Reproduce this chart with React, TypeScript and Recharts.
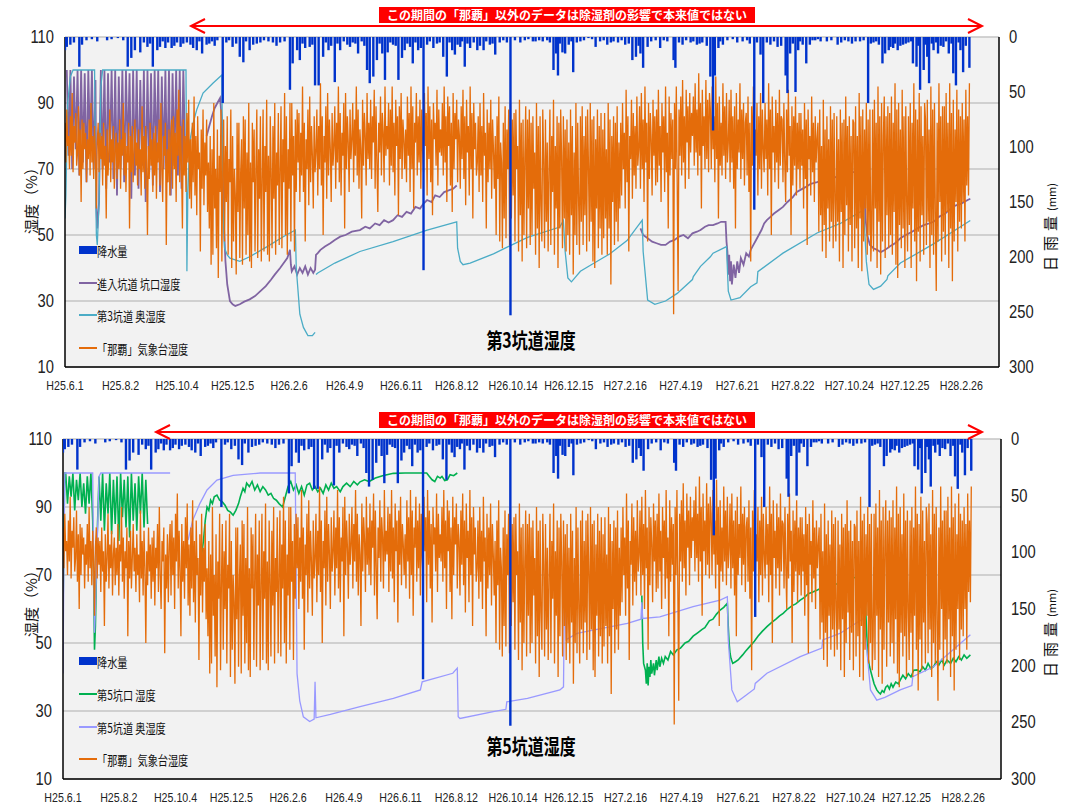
import React from 'react';
import { ComposedChart, Line, Bar, XAxis, YAxis, CartesianGrid } from 'recharts';

// ---- axes ----
const tickDays = [0, 62, 125, 187, 250, 312, 375, 437, 500, 562, 625, 687, 750, 812, 875, 937, 1000];
const tickLabels = ['H25.6.1', 'H25.8.2', 'H25.10.4', 'H25.12.5', 'H26.2.6', 'H26.4.9', 'H26.6.11', 'H26.8.12', 'H26.10.14', 'H26.12.15', 'H27.2.16', 'H27.4.19', 'H27.6.21', 'H27.8.22', 'H27.10.24', 'H27.12.25', 'H28.2.26'];
const humTicks = [10, 30, 50, 70, 90, 110];
const rainTicks = [0, 50, 100, 150, 200, 250, 300];

// ---- daily rainfall (day index from H25.6.1, mm) ----
const rainMajor: [number, number][] = [
  [0, 12], [2, 9], [6, 7], [10, 5], [16, 27], [19, 7], [47, 3], [59, 1], [70, 27], [74, 19], [78, 12], [84, 14], [92, 9], [98, 27], [103, 12], [106, 9], [112, 10], [115, 5], [119, 10], [125, 5], [129, 9], [136, 5], [143, 10], [147, 12], [153, 15], [158, 7], [164, 4], [170, 3], [176, 60], [187, 9], [195, 18], [199, 23], [206, 12], [210, 7], [218, 5], [227, 4], [240, 5], [251, 48], [254, 24], [259, 12], [262, 21], [268, 10], [273, 9], [279, 44], [283, 44], [288, 18], [294, 12], [301, 41], [307, 12], [315, 7], [321, 5], [327, 15], [337, 30], [340, 42], [344, 36], [348, 21], [354, 15], [357, 39], [360, 14], [366, 7], [372, 39], [376, 19], [379, 12], [385, 9], [388, 24], [394, 12], [400, 212], [404, 7], [411, 10], [422, 18], [426, 36], [432, 12], [435, 16], [441, 9], [446, 27], [452, 10], [460, 12], [467, 12], [474, 7], [480, 16], [485, 5], [497, 253], [508, 5], [513, 3], [522, 4], [525, 4], [533, 4], [538, 3], [545, 30], [548, 15], [550, 35], [555, 14], [558, 15], [562, 7], [567, 32], [571, 5], [575, 4], [584, 1], [592, 9], [597, 4], [605, 7], [612, 4], [617, 5], [625, 7], [633, 21], [637, 18], [642, 15], [645, 28], [650, 9], [664, 10], [679, 21], [681, 28], [689, 7], [698, 5], [705, 7], [711, 5], [720, 36], [723, 85], [725, 35], [729, 10], [734, 7], [750, 5], [761, 3], [769, 157], [776, 16], [779, 60], [787, 7], [795, 9], [804, 35], [806, 51], [809, 15], [815, 50], [818, 12], [823, 7], [827, 24], [831, 7], [837, 3], [843, 4], [850, 4], [862, 7], [874, 4], [882, 4], [887, 4], [896, 60], [902, 5], [912, 24], [915, 15], [919, 12], [924, 10], [929, 12], [935, 7], [941, 5], [946, 24], [950, 27], [954, 48], [958, 30], [962, 18], [964, 42], [969, 12], [974, 15], [980, 9], [986, 15], [991, 33], [994, 44], [999, 12], [1002, 32], [1009, 28],
];
const rainMinor: [number, number][] = [
  [24, 3], [30, 2], [36, 4], [52, 2], [65, 3], [88, 5], [95, 6], [109, 4], [122, 8], [132, 6], [140, 7], [150, 4], [161, 6], [167, 8], [180, 5], [183, 3], [191, 6], [202, 4], [214, 6], [222, 3], [232, 5], [236, 8], [245, 4], [265, 6], [276, 7], [291, 5], [297, 8], [304, 6], [311, 4], [318, 9], [324, 6], [331, 4], [334, 8], [351, 6], [363, 5], [369, 8], [382, 6], [391, 5], [397, 10], [407, 4], [415, 6], [418, 5], [429, 5], [438, 7], [443, 4], [449, 6], [456, 5], [463, 8], [470, 4], [477, 6], [489, 3], [493, 5], [502, 3], [517, 2], [529, 3], [541, 5], [552, 6], [565, 4], [579, 3], [588, 2], [601, 3], [609, 5], [621, 3], [629, 6], [640, 8], [654, 4], [659, 3], [668, 3], [672, 4], [685, 5], [693, 3], [701, 4], [708, 6], [716, 8], [731, 4], [739, 3], [745, 2], [756, 4], [764, 6], [772, 5], [783, 5], [791, 4], [799, 8], [812, 6], [820, 4], [834, 3], [840, 2], [855, 3], [866, 5], [870, 3], [878, 6], [891, 3], [899, 6], [905, 4], [908, 7], [921, 9], [926, 6], [932, 8], [938, 6], [944, 4], [952, 8], [960, 7], [967, 6], [972, 5], [977, 8], [983, 4], [989, 6], [997, 5], [1005, 8],
];

// ---- Naha weather station humidity (one reading per day from day 0) ----
const nahaStart = 0;
const nahaStep = 1;
const nahaHum = [
  84, 72, 88, 77, 80, 70, 86, 74, 93, 69, 83, 78, 87, 71, 75, 89, 68, 82, 60, 85,
  70, 84, 76, 81, 66, 79, 73, 85, 68, 90, 72, 80, 67, 83, 74, 58, 78, 84, 69, 81,
  73, 80, 65, 84, 71, 77, 55, 82, 68, 75, 88, 66, 79, 72, 83, 64, 76, 81, 67, 78,
  70, 85, 64, 79, 74, 90, 68, 81, 63, 77, 72, 84, 52, 80, 69, 83, 66, 75, 85, 71,
  78, 65, 82, 70, 76, 62, 89, 69, 80, 64, 83, 72, 50, 77, 67, 84, 71, 79, 63, 81,
  68, 83, 61, 78, 72, 85, 65, 90, 70, 60, 80, 74, 84, 47, 76, 66, 82, 62, 79, 85,
  64, 86, 70, 81, 60, 88, 74, 94, 66, 83, 71, 52, 85, 68, 80, 63, 87, 72, 91, 61,
  79, 58, 84, 66, 92, 62, 80, 56, 86, 70, 75, 45, 82, 64, 88, 59, 78, 68, 85, 57,
  72, 52, 80, 41, 76, 44, 90, 58, 70, 46, 82, 37, 74, 63, 88, 42, 68, 85, 48, 77,
  60, 86, 44, 73, 66, 88, 40, 80, 48, 70, 62, 38, 84, 57, 84, 43, 69, 79, 41, 86,
  58, 85, 44, 75, 50, 90, 42, 72, 40, 84, 66, 82, 45, 70, 88, 43, 76, 61, 86, 42,
  67, 88, 45, 77, 63, 91, 44, 74, 42, 86, 69, 46, 83, 61, 90, 44, 75, 65, 87, 47,
  70, 89, 46, 79, 66, 93, 50, 86, 44, 76, 64, 90, 48, 90, 68, 80, 45, 85, 63, 88,
  72, 87, 60, 81, 68, 95, 63, 84, 48, 79, 70, 88, 59, 92, 66, 83, 74, 58, 86, 69,
  75, 88, 62, 83, 70, 96, 65, 86, 50, 80, 72, 89, 61, 93, 68, 85, 76, 60, 87, 71,
  77, 89, 64, 84, 72, 95, 66, 87, 62, 81, 74, 90, 52, 93, 70, 86, 78, 63, 88, 73,
  79, 90, 66, 85, 74, 95, 68, 88, 64, 82, 76, 55, 91, 71, 87, 80, 65, 93, 73, 84,
  70, 91, 67, 86, 78, 94, 64, 89, 72, 57, 84, 75, 92, 68, 87, 81, 66, 95, 74, 83,
  76, 90, 65, 88, 71, 95, 69, 84, 62, 91, 77, 86, 56, 89, 73, 93, 67, 85, 79, 70,
  82, 66, 92, 74, 87, 63, 95, 70, 89, 58, 84, 78, 93, 68, 86, 72, 91, 64, 88, 75,
  69, 93, 77, 87, 62, 95, 73, 89, 66, 85, 56, 90, 79, 84, 71, 94, 65, 88, 75, 82,
  74, 90, 68, 95, 72, 86, 60, 92, 77, 89, 65, 84, 57, 93, 70, 87, 79, 91, 66, 85,
  80, 64, 89, 73, 94, 67, 86, 59, 91, 75, 83, 62, 95, 70, 87, 55, 90, 76, 84, 68,
  72, 86, 63, 90, 68, 83, 60, 93, 74, 81, 52, 88, 66, 84, 70, 91, 61, 85, 76, 64,
  80, 50, 86, 67, 92, 48, 78, 72, 46, 84, 55, 89, 49, 82, 70, 88, 47, 90, 55, 85,
  62, 87, 48, 88, 70, 77, 45, 91, 56, 84, 42, 85, 50, 74, 89, 46, 85, 58, 88, 47,
  84, 50, 86, 64, 75, 44, 90, 52, 83, 40, 86, 59, 48, 88, 73, 46, 85, 54, 78, 45,
  70, 88, 47, 80, 63, 91, 44, 77, 58, 86, 40, 84, 52, 88, 74, 46, 86, 55, 82, 45,
  85, 50, 78, 44, 88, 56, 83, 38, 75, 50, 90, 47, 84, 60, 44, 86, 54, 89, 47, 80,
  56, 86, 45, 88, 71, 48, 90, 54, 85, 42, 86, 40, 79, 58, 88, 46, 83, 52, 87, 44,
  82, 49, 87, 55, 76, 44, 90, 52, 85, 35, 80, 60, 86, 47, 84, 54, 89, 48, 78, 58,
  84, 62, 90, 70, 81, 58, 94, 66, 86, 45, 80, 73, 91, 61, 87, 68, 83, 64, 92, 71,
  76, 89, 64, 93, 70, 85, 60, 95, 72, 84, 48, 90, 67, 87, 79, 62, 91, 74, 86, 65,
  88, 66, 94, 71, 83, 60, 90, 75, 86, 63, 95, 69, 81, 52, 92, 68, 87, 73, 85, 26,
  90, 70, 95, 66, 33, 88, 74, 92, 68, 97, 72, 86, 64, 94, 78, 89, 67, 93, 75, 87,
  80, 92, 71, 96, 75, 88, 68, 99, 74, 90, 58, 94, 77, 86, 70, 97, 73, 91, 69, 93,
  88, 70, 95, 76, 86, 66, 98, 73, 90, 55, 92, 71, 84, 68, 96, 74, 89, 67, 93, 72,
  78, 91, 66, 94, 72, 86, 64, 89, 52, 93, 70, 85, 75, 96, 67, 88, 73, 90, 65, 84,
  87, 68, 92, 63, 84, 42, 89, 71, 95, 66, 82, 74, 90, 62, 86, 70, 93, 64, 88, 76,
  69, 90, 73, 85, 62, 96, 70, 88, 50, 92, 75, 83, 66, 91, 72, 87, 64, 94, 71, 86,
  85, 66, 90, 72, 60, 88, 69, 94, 74, 83, 50, 89, 65, 86, 71, 92, 62, 84, 70, 87,
  64, 87, 71, 82, 58, 90, 67, 85, 47, 88, 73, 80, 62, 92, 69, 84, 60, 86, 72, 79,
  84, 51, 88, 56, 77, 45, 91, 53, 82, 43, 86, 58, 79, 48, 89, 54, 85, 46, 87, 60,
  48, 86, 54, 79, 42, 88, 57, 84, 40, 85, 50, 92, 59, 83, 45, 86, 53, 80, 42, 85,
  84, 46, 89, 52, 80, 40, 93, 55, 86, 39, 88, 48, 82, 58, 90, 44, 85, 50, 88, 42,
  52, 88, 45, 91, 58, 84, 40, 95, 54, 86, 38, 90, 48, 80, 92, 43, 86, 56, 89, 46,
  87, 50, 92, 44, 84, 57, 96, 41, 88, 37, 90, 53, 82, 46, 94, 52, 86, 40, 89, 60,
  45, 86, 53, 90, 40, 84, 58, 96, 48, 88, 36, 85, 51, 93, 42, 89, 56, 80, 44, 90,
  85, 47, 91, 54, 82, 40, 95, 50, 88, 44, 90, 56, 33, 84, 48, 96, 60, 86, 42, 89,
  51, 89, 44, 93, 57, 84, 40, 96, 52, 87, 36, 91, 48, 82, 60, 94, 45, 88, 54, 86,
  52, 90, 60, 85, 48, 94, 65, 86, 62, 96,
];

// ---- 進入坑道 坑口湿度 (tunnel 3 panel) ----
const purpleBandA = [100, 74, 100, 70, 98, 76, 100, 68, 100, 72, 99, 66, 100, 75, 100, 70, 97]; // days 2..34 step 2
const purpleDip: [number, number][] = [[35, 58], [36, 52], [38, 60], [39, 85]];
const purpleBandB = [100, 70, 100, 64, 99, 72, 100, 67, 100, 62, 98, 70, 100, 66, 100, 73, 99, 61, 100, 68, 100, 64, 97, 71, 100, 60, 100, 69, 99, 65, 100, 72, 100, 63, 98, 70, 100, 66, 100, 62, 99, 71, 100, 68, 100, 64, 100, 75]; // days 40..134 step 2
const purpleMid: [number, number][] = [
  [158, 80], [161, 83], [164, 86], [167, 88.5], [170, 90], [173, 91.5], [175, 85], [176, 70], [177, 55], [179, 42], [181, 35], [184, 30], [187, 29], [190, 28.5], [195, 29], [200, 29.8], [206, 30.5], [212, 31.5], [218, 33], [224, 34.5], [230, 36.5], [234, 38], [240, 40], [244, 41.5], [248, 43], [251, 45.5], [252, 41], [253, 39], [256, 40.5], [259, 38], [262, 40], [265, 38.5], [268, 40.5], [271, 38], [274, 40], [277, 38.5], [279, 39.5], [280, 44], [282, 44.5], [285, 45.5], [290, 46.5], [296, 47.5], [301, 48.5], [307, 49.5], [313, 50], [320, 51], [329, 51.5], [335, 52.5], [340, 52], [346, 53.5], [351, 53], [356, 54.5], [361, 53.8], [366, 54.5], [371, 56], [376, 55.5], [381, 57], [386, 56.5], [391, 58.5], [396, 58], [400, 59.5], [404, 60.6], [409, 60], [413, 62], [418, 61.5], [423, 63], [428, 63.5], [433, 64], [437, 65],
];
const purpleLate: [number, number][] = [
  [642, 52], [645, 50], [650, 49], [655, 48], [660, 47.5], [665, 47], [670, 47], [675, 48], [680, 48.5], [685, 49.5], [690, 50], [695, 49], [700, 50.5], [705, 51], [709, 51.5], [714, 52.5], [718, 53], [723, 53], [728, 53.5], [732, 54], [737, 54], [738, 48], [739, 45], [740, 38], [741, 44], [742, 36], [743, 42], [744, 35], [746, 41], [748, 37], [750, 42], [752, 38.5], [754, 43], [757, 41], [760, 44.5], [763, 43.5], [765, 45.5], [768, 47], [771, 48.5], [774, 50], [777, 51.5], [780, 53.5], [783, 54.5], [787, 55.5], [791, 56.5], [796, 57.5], [801, 58.5], [806, 60], [812, 61.5], [816, 63], [820, 63.6], [826, 64.5], [832, 65.5], [839, 66], [845, 66.5], [852, 67], [858, 67.5], [865, 67.6], [871, 68.5], [878, 69], [884, 69.3], [891, 69.7], [892, 62], [893, 55], [895, 50], [898, 47], [902, 46], [906, 45.5], [910, 44.8], [915, 45.5], [920, 46.5], [926, 47.5], [932, 49], [938, 50], [945, 51], [951, 52], [958, 53], [964, 53.5], [969, 54], [975, 55.5], [982, 56.5], [988, 58], [994, 59], [1000, 59.5], [1007, 60.6], [1010, 61],
];

// ---- 第3坑道 奥湿度 ----
const cyan3: [number, number | null][] = [
  [0, 55], [1, 62], [3, 90], [6, 98], [9, 100], [33, 100], [34, 70], [35, 50], [36, 47], [38, 60], [40, 95], [42, 100], [135, 100], [136, 39], [137, 62], [139, 78], [143, 84], [147, 88], [154, 93], [165, 96], [175, 98.5], [176, 60], [178, 46], [181, 44], [184, 43], [195, 42], [206, 43.4], [225, 46.4], [243, 49.4], [257, 51.5], [258, 40], [262, 26], [266, 22], [271, 19.5], [276, 19.5], [279, 20.5], [279.5, null], [280, 38], [282, 38.5], [301, 41.5], [329, 45], [366, 48], [404, 51.5], [437, 54], [438, 46], [441, 42], [444, 41], [452, 41.5], [478, 44.3], [516, 49.3], [552, 52.4], [556, 54.4], [558, 45], [561, 37], [565, 35.8], [575, 39], [589, 41.3], [608, 44.3], [627, 48.3], [644, 54.5], [645, 45], [650, 30.3], [658, 29], [670, 30], [683, 32.3], [700, 36.5], [701, 37.4], [709, 40.5], [720, 43.4], [723, 44.5], [738, 46.5], [740, 33], [743, 30.3], [753, 31], [765, 34.3], [772, 35.5], [773, 38.9], [801, 44.5], [839, 50.6], [865, 53.5], [891, 57.6], [894, 42], [897, 35], [902, 33.5], [910, 34.5], [917, 36.5], [918, 37.6], [932, 41.5], [969, 47.3], [1010, 54.4],
];

// ---- 第5坑口 湿度 ----
const greenStart: [number, number][] = [[0, 58], [1, 85], [2, 100]];
const greenBandA = [100, 91, 99, 93, 100, 89, 98, 92, 100, 90, 97, 88, 99, 91, 100, 86]; // days 3..33 step 2
const greenDip: [number, number][] = [[34, 70], [35, 48], [36, 55], [38, 82]];
const greenBandB = [99, 86, 100, 83, 97, 88, 100, 82, 98, 85, 99, 80, 100, 87, 98, 84, 99, 81, 100, 86, 97, 83, 99, 88, 100, 84, 98, 85]; // days 40..94 step 2
const greenMid: [number, number][] = [
  [152, 71.5], [154, 76], [156, 80], [158, 86], [160, 90], [162, 89], [164, 92], [166, 91], [168, 93], [171, 93.5], [174, 92], [177, 91.5], [180, 90.5], [183, 89], [186, 88.5], [189, 87.6], [192, 89], [195, 91], [197, 93], [200, 95.5], [202, 94.5], [204, 97], [207, 96], [210, 97.5], [213, 95], [216, 96.5], [219, 94.5], [222, 96], [225, 95], [228, 93.5], [231, 94], [234, 92.5], [237, 92], [240, 91], [244, 90], [247, 93], [250, 96], [253, 97.5], [256, 95], [259, 96.5], [262, 94], [265, 96], [268, 93.5], [271, 96.5], [274, 97], [277, 95], [280, 96], [283, 94.5], [286, 95.5], [289, 94], [292, 96.5], [295, 95], [298, 97], [301, 95.5], [304, 96], [308, 94.5], [311, 96], [315, 97], [319, 96], [323, 97.5], [327, 96.5], [330, 97.4], [335, 98], [340, 97.5], [347, 98.5], [355, 99.2], [367, 99.9], [380, 100], [404, 100], [407, 99], [410, 98], [413, 97.5], [416, 99], [419, 98.5], [421, 99], [424, 97.8], [427, 98], [430, 99.5], [434, 99.2], [438, 100],
];
const greenLate: [number, number][] = [
  [643, 64], [644, 50], [645, 44], [647, 42], [648, 38], [649, 44], [650, 37.5], [651, 43], [652, 40], [653, 45], [654, 41], [656, 44], [657, 40.5], [659, 45], [660, 42], [662, 46], [663, 43], [665, 45.5], [667, 44], [669, 46], [672, 45], [675, 47.5], [678, 46.5], [682, 48], [686, 48.5], [691, 50], [695, 50.5], [700, 52], [705, 53], [710, 54], [713, 54.5], [718, 56.5], [722, 57], [726, 58.5], [730, 59.7], [734, 60.5], [738, 61.7], [739, 55], [740, 50], [741, 47], [742, 45.5], [744, 44], [747, 44.5], [750, 45], [755, 46.5], [758, 47.5], [763, 49], [768, 50.5], [772, 52], [777, 53.5], [782, 54.8], [787, 56], [792, 57], [796, 58], [800, 58.7], [805, 60], [810, 61], [814, 61.5], [819, 62.6], [824, 63.5], [828, 64.5], [833, 65], [838, 65.6], [845, 66.5], [850, 66.8], [856, 67.2], [863, 67.5], [870, 68.5], [876, 69], [882, 69.5], [889, 70], [891, 65], [892, 58], [893, 52], [894, 46], [896, 43], [899, 40], [901, 38], [904, 36.2], [906, 35.5], [908, 35], [910, 36], [912, 35.5], [914, 37], [916, 37.5], [918, 36.5], [920, 38], [922, 37], [925, 38.5], [928, 38], [930, 39.1], [933, 40.5], [936, 39.5], [939, 41], [942, 40], [945, 42], [949, 42.1], [952, 41.5], [955, 43], [958, 42], [961, 44], [964, 42.5], [967, 43], [970, 44.5], [973, 43.5], [976, 45], [979, 43.5], [982, 45], [986, 44], [989, 45.5], [992, 44.5], [995, 46], [998, 45], [1001, 46.5], [1004, 45.5], [1008, 46.5],
];

// ---- 第5坑道 奥湿度 ----
const lavender5: [number, number | null][] = [
  [0, 41], [1, 75], [2, 100], [33, 100], [34, 75], [35, 53], [36, 60], [40, 99], [42, 100], [119, 100], [120, null],
  [139, 80.3], [144, 86], [152, 91], [160, 95], [171, 97.9], [189, 99.3], [219, 100], [258, 100], [260, 41], [263, 33], [267, 28.3], [274, 26.9], [279, 27.6], [280, 38.6], [281, 28], [297, 29], [330, 31.3], [367, 33.7], [397, 36.2], [399, 38.6], [433, 41.1], [438, 42.6], [439, 28.3], [441, 27.8], [478, 29.8], [492, 30.5], [493, 32.7], [516, 33.7], [552, 36.2], [556, 37.1], [557, 64.5], [559, 51], [571, 52.8], [589, 53.8], [627, 55.8], [642, 57], [643, 62], [644, 57.2], [663, 57.7], [700, 60.7], [730, 62.6], [738, 63.6], [739, 51], [743, 36.2], [749, 32.7], [758, 34.5], [768, 36.5], [769, 38.1], [782, 41.1], [819, 46], [843, 48.5], [844, 50.9], [863, 52.8], [889, 57.2], [893, 47.9], [897, 36.2], [904, 33.2], [913, 34], [930, 36.2], [943, 37.5], [944, 40.1], [967, 43], [1008, 52.4],
];

// ---- colours ----
const C_RAIN = '#0033cc';
const C_NAHA = '#e46c0a';
const C_PURPLE = '#8064a2';
const C_CYAN = '#4bacc6';
const C_GREEN = '#00b050';
const C_LAV = '#9999ff';

type Pt = { d: number; v: number | null };
const band = (start: number, step: number, vals: number[]): Pt[] => vals.map((v, i) => ({ d: start + i * step, v }));
const pts = (arr: [number, number | null][]): Pt[] => arr.map(([d, v]) => ({ d, v }));
const gap = (d: number): Pt => ({ d, v: null });

const rainRows = [...rainMajor, ...rainMinor].sort((a, b) => a[0] - b[0]).map(([d, r]) => ({ d, rain: r }));
const nahaData = band(nahaStart, nahaStep, nahaHum);

const purpleData: Pt[] = [
  ...band(2, 2, purpleBandA), ...pts(purpleDip), ...band(40, 2, purpleBandB), gap(140),
  ...pts(purpleMid), gap(500), ...pts(purpleLate),
];
const cyanData = pts(cyan3);
const greenData: Pt[] = [
  ...pts(greenStart), ...band(3, 2, greenBandA), ...pts(greenDip), ...band(40, 2, greenBandB), gap(120),
  ...pts(greenMid), gap(500), ...pts(greenLate),
];
const lavData = pts(lavender5);

const NARROW = "'Liberation Sans Narrow','Liberation Sans',Arial,sans-serif";
const JP = "'Noto Sans CJK JP','Noto Sans',sans-serif";

const XTick = (p: any) => {
  const i = tickDays.indexOf(p.payload.value);
  return (
    <g transform={`translate(${p.x},${p.y})`}>
      <text transform="scale(0.82,1)" textAnchor="middle" dy={16} fontSize={13} fontFamily={NARROW} fill="#222">
        {i >= 0 ? tickLabels[i] : ''}
      </text>
    </g>
  );
};
const LTick = (p: any) => (
  <g transform={`translate(${p.x},${p.y})`}>
    <text transform="scale(0.82,1)" textAnchor="end" dy={6} fontSize={18} fontFamily={NARROW} fill="#222">{p.payload.value}</text>
  </g>
);
const RTick = (p: any) => (
  <g transform={`translate(${p.x},${p.y})`}>
    <text transform="scale(0.82,1)" textAnchor="start" dy={6} fontSize={18} fontFamily={NARROW} fill="#222">{p.payload.value}</text>
  </g>
);
const RainShape = (p: any) => {
  const cx = p.x + p.width / 2;
  const y = Math.min(p.y, p.y + p.height);
  const h = Math.abs(p.height);
  return <rect x={cx - 1.2} y={y} width={2.4} height={h} fill={C_RAIN} />;
};

type S = { data: Pt[]; color: string; width: number };
type LegendItem = { label: string; color: string; rect?: boolean };

function Panel(props: {
  top: number; height: number; mt: number; mb: number; lw: number; rw: number;
  series: S[]; legend: LegendItem[]; legendY: number[]; title: string; titleY: number;
  yTitleY: number; rTitleY: number; boxTop: number; arrowY: number; arrowLeft: number;
}) {
  const { top, height, mt, mb, lw, rw, series, legend, legendY, title, titleY } = props;
  return (
    <>
      <div style={{ position: 'absolute', left: 0, top, width: 1069, height }}>
        <ComposedChart width={1069} height={height} data={rainRows} margin={{ top: mt, right: 0, bottom: mb, left: 0 }}>
          <CartesianGrid yAxisId="left" vertical={false} stroke="#c4c4c4" strokeWidth={1.5} fill="#f2f2f2" />
          <XAxis dataKey="d" type="number" domain={[0, 1042]} ticks={tickDays} interval={0} allowDataOverflow
            tick={XTick} tickLine={false} tickSize={0} tickMargin={7} height={22}
            axisLine={{ stroke: '#000', strokeWidth: 1.5 }} />
          <YAxis yAxisId="left" domain={[10, 110]} ticks={humTicks} interval={0} allowDataOverflow width={lw}
            tick={LTick} tickLine={false} tickSize={0} tickMargin={11} axisLine={{ stroke: '#000', strokeWidth: 1.5 }} />
          <YAxis yAxisId="right" orientation="right" reversed domain={[0, 300]} ticks={rainTicks} interval={0} allowDataOverflow width={rw}
            tick={RTick} tickLine={false} tickSize={0} tickMargin={10} axisLine={{ stroke: '#000', strokeWidth: 1.5 }} />
          {series.map((s, i) => (
            <Line key={i} yAxisId="left" data={s.data} dataKey="v" type="linear" dot={false} activeDot={false}
              stroke={s.color} strokeWidth={s.width} isAnimationActive={false} connectNulls={false} />
          ))}
          <Line yAxisId="left" data={nahaData} dataKey="v" type="linear" dot={false} activeDot={false}
            stroke={C_NAHA} strokeWidth={1.3} isAnimationActive={false} />
          <Bar yAxisId="right" dataKey="rain" fill={C_RAIN} barSize={2} shape={RainShape} isAnimationActive={false} {...({ zIndex: 1000 } as any)} />
        </ComposedChart>
      </div>
      {legend.map((l, i) => (
        <div key={i} style={{ position: 'absolute', left: 79, top: legendY[i] - 10, height: 20, display: 'flex', alignItems: 'center' }}>
          {l.rect
            ? <div style={{ width: 18, height: 8, background: l.color }} />
            : <div style={{ width: 18, height: 2, background: l.color }} />}
          <span style={{ display: 'inline-block', fontFamily: JP, fontSize: 13, color: '#111', whiteSpace: 'nowrap', transform: 'scaleX(0.78)', transformOrigin: 'left center' }}>{l.label}</span>
        </div>
      ))}
      <div style={{ position: 'absolute', left: 531, top: titleY, transform: 'translate(-50%,-50%) scaleX(0.76)', fontFamily: JP, fontWeight: 700, fontSize: 21, color: '#000', whiteSpace: 'nowrap' }}>{title}</div>
      <div style={{ position: 'absolute', left: 30, top: props.yTitleY, transform: 'translate(-50%,-50%) rotate(-90deg)', fontFamily: JP, fontSize: 15, color: '#111', whiteSpace: 'nowrap' }}>湿度（%）</div>
      <div style={{ position: 'absolute', left: 1049, top: props.rTitleY, transform: 'translate(-50%,-50%) rotate(-90deg)', fontFamily: JP, fontSize: 15, color: '#111', whiteSpace: 'nowrap', letterSpacing: 5 }}>日雨量<span style={{ fontSize: 11, letterSpacing: 0 }}>(mm)</span></div>
      <div style={{ position: 'absolute', left: 379, top: props.boxTop, width: 376, height: 16, background: '#ff0000', color: '#fff', fontFamily: JP, fontWeight: 700, fontSize: 12, lineHeight: '16px', textAlign: 'center', whiteSpace: 'nowrap' }}>この期間の「那覇」以外のデータは除湿剤の影響で本来値ではない</div>
      <svg style={{ position: 'absolute', left: 0, top: 0, pointerEvents: 'none' }} width={1069} height={807}>
        <line x1={props.arrowLeft} y1={props.arrowY} x2={982} y2={props.arrowY} stroke="#ff0000" strokeWidth={2} />
        <polyline points={`${props.arrowLeft + 14},${props.arrowY - 7} ${props.arrowLeft},${props.arrowY} ${props.arrowLeft + 14},${props.arrowY + 7}`} fill="none" stroke="#ff0000" strokeWidth={2} />
        <polyline points={`968,${props.arrowY - 7} 982,${props.arrowY} 968,${props.arrowY + 7}`} fill="none" stroke="#ff0000" strokeWidth={2} />
      </svg>
    </>
  );
}

export default function App() {
  return (
    <div style={{ position: 'absolute', left: 0, top: 0, width: 1069, height: 807, background: '#fff', overflow: 'hidden' }}>
      <Panel top={0} height={397} mt={37} mb={8} lw={65} rw={70}
        series={[{ data: purpleData, color: C_PURPLE, width: 1.8 }, { data: cyanData, color: C_CYAN, width: 1.3 }]}
        legend={[{ label: '降水量', color: C_RAIN, rect: true }, { label: '進入坑道  坑口湿度', color: C_PURPLE }, { label: '第3坑道  奥湿度', color: C_CYAN }, { label: '「那覇」気象台湿度', color: C_NAHA }]}
        legendY={[250, 283, 315, 348]} title="第3坑道湿度" titleY={339} yTitleY={197} rTitleY={227}
        boxTop={7} arrowY={26} arrowLeft={191} />
      <Panel top={400} height={407} mt={39} mb={6} lw={63} rw={68}
        series={[{ data: greenData, color: C_GREEN, width: 1.6 }, { data: lavData, color: C_LAV, width: 1.3 }]}
        legend={[{ label: '降水量', color: C_RAIN, rect: true }, { label: '第5坑口  湿度', color: C_GREEN }, { label: '第5坑道  奥湿度', color: C_LAV }, { label: '「那覇」気象台湿度', color: C_NAHA }]}
        legendY={[661, 694, 727, 759]} title="第5坑道湿度" titleY={745} yTitleY={600} rTitleY={633}
        boxTop={412} arrowY={432} arrowLeft={156} />
    </div>
  );
}
